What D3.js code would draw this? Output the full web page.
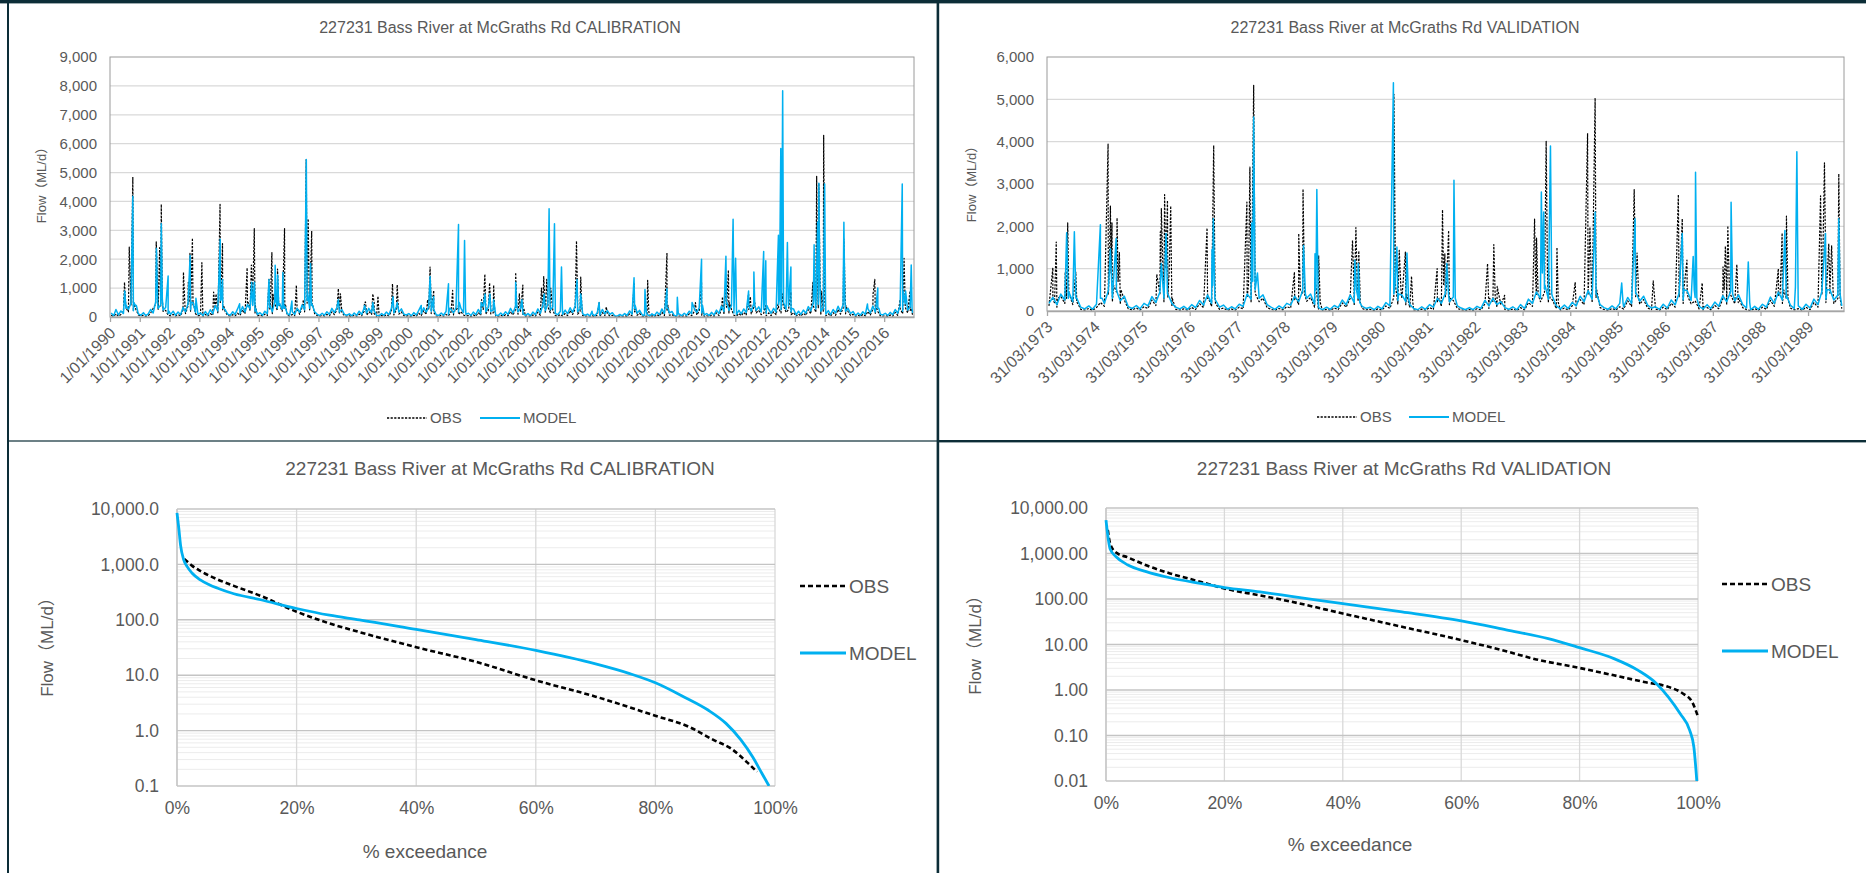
<!DOCTYPE html>
<html>
<head>
<meta charset="utf-8">
<script src="https://cdn.jsdelivr.net/npm/d3@7"></script>
<style>
  html, body { margin: 0; padding: 0; background: #fff; }
  svg { display: block; font-family: "Liberation Sans", Arial, "Noto Sans CJK SC", sans-serif; }
</style>
</head>
<body>
<svg id="chart" width="1866" height="873"></svg>
<script>
// ---------------- Calibration daily flows (1990 – 2016), ML/d ----------------
// Storm peaks and the dips between them
const calObsEvents = [
  ["1990-06-28",1200],["1990-07-20",300],["1990-08-25",2420],["1990-09-15",600],["1990-10-08",4850],["1990-10-20",500],
  ["1991-07-22",2600],["1991-08-12",700],["1991-09-02",2400],["1991-09-12",900],["1991-09-22",3900],["1991-10-05",600],
  ["1992-06-20",1550],["1992-07-10",300],["1992-08-18",1200],["1992-08-28",500],["1992-09-08",2200],["1992-09-20",800],["1992-10-08",2730],["1992-10-20",500],
  ["1993-02-01",1880],["1993-02-12",200],["1993-06-25",860],["1993-07-10",400],["1993-07-25",800],["1993-08-20",500],["1993-09-12",3900],["1993-09-25",800],["1993-10-12",2540],["1993-10-25",400],
  ["1994-08-10",1700],["1994-08-25",500],["1994-10-01",1800],["1994-10-15",600],["1994-11-06",3060],["1994-11-18",400],
  ["1995-05-05",1300],["1995-05-20",300],["1995-06-10",2230],["1995-06-22",800],["1995-08-18",1660],["1995-09-01",500],["1995-11-12",3060],["1995-11-25",400],
  ["1996-04-05",1100],["1996-04-18",300],["1996-07-01",600],["1996-08-04",5450],["1996-08-18",1200],["1996-08-28",3400],["1996-09-10",800],["1996-10-10",2980],["1996-10-22",400],
  ["1997-09-02",980],["1997-09-15",300],["1997-09-28",800],
  ["1998-07-20",500],["1998-08-01",520],["1998-10-30",800],["1998-11-15",500],
  ["1999-01-01",720],["1999-06-28",1150],["1999-07-10",300],["1999-08-25",1120],["1999-09-08",300],
  ["2000-09-01",600],["2000-10-01",1730],["2000-10-15",400],["2000-11-15",920],
  ["2001-07-05",920],["2001-07-20",200],["2001-09-15",400],
  ["2002-06-25",600],["2002-08-04",1480],["2002-08-15",400],["2002-10-01",1180],["2002-10-15",400],["2002-11-20",1100],["2002-12-01",300],
  ["2003-08-17",1540],["2003-08-30",400],["2003-10-01",800],["2003-11-13",1100],["2003-11-25",300],
  ["2004-06-28",1000],["2004-07-26",1400],["2004-08-10",500],["2004-09-01",1300],["2004-09-15",600],["2004-10-20",1000],
  ["2005-09-01",2630],["2005-09-15",600],["2005-10-23",1380],["2005-11-05",400],
  ["2006-06-05",500],["2006-09-01",350],
  ["2007-08-10",1150],["2007-08-25",300],
  ["2008-01-22",1270],["2008-02-05",200],["2008-09-15",2220],["2008-09-28",400],
  ["2009-08-30",500],["2009-11-13",1200],["2009-11-25",300],
  ["2010-07-28",700],["2010-09-08",1200],["2010-09-20",500],["2010-10-08",1620],["2010-10-20",500],
  ["2011-06-13",800],["2011-07-05",700],["2011-08-17",700],
  ["2012-01-10",400],["2012-06-13",500],["2012-08-04",800],["2012-11-13",870],
  ["2013-08-10",1200],["2013-09-25",4870],["2013-10-05",1500],["2013-10-22",4630],["2013-11-05",1420],["2013-11-20",900],["2013-12-20",6290],["2014-01-03",580],
  ["2014-08-25",2700],["2014-09-05",1330],["2014-09-18",400],
  ["2015-08-18",800],["2015-09-08",1300],["2015-09-20",400],
  ["2016-07-15",600],["2016-09-01",2030],["2016-09-15",500],["2016-11-13",900],["2016-11-28",300]
];
const calModelEvents = [
  ["1990-07-01",900],["1990-07-15",300],["1990-10-08",4180],["1990-10-20",500],["1990-11-20",400],
  ["1991-07-25",2370],["1991-08-08",500],["1991-09-22",3230],["1991-10-05",600],["1991-12-15",1420],["1991-12-25",200],
  ["1992-09-10",2130],["1992-09-22",500],["1992-11-20",650],
  ["1993-07-15",400],["1993-09-14",2690],["1993-09-25",600],["1993-10-12",1300],["1993-10-25",300],
  ["1994-05-10",460],["1994-10-05",1200],["1994-10-18",400],["1994-11-08",1200],["1994-11-20",300],
  ["1995-05-05",1300],["1995-05-18",400],["1995-07-20",1790],["1995-08-02",500],["1995-08-20",1450],["1995-09-01",400],["1995-10-22",1540],["1995-11-02",300],
  ["1996-02-10",550],["1996-08-05",5450],["1996-08-18",900],["1996-09-25",1850],["1996-10-08",400],
  ["1997-06-15",300],["1997-09-02",600],
  ["1998-07-20",400],["1998-09-10",300],["1998-10-30",500],
  ["1999-07-05",700],["1999-08-25",500],
  ["2000-06-15",400],["2000-10-01",1400],["2000-10-15",400],["2000-11-15",700],
  ["2001-05-15",1150],["2001-05-28",300],["2001-09-15",3200],["2001-09-25",500],["2001-11-28",2650],["2001-12-10",300],
  ["2002-06-20",500],["2002-08-06",800],["2002-10-05",800],["2002-11-20",600],
  ["2003-08-17",1200],["2003-08-30",400],["2003-11-01",600],
  ["2004-08-01",800],["2004-09-30",3750],["2004-10-10",600],["2004-12-05",3230],["2004-12-15",400],
  ["2005-03-01",1730],["2005-03-12",300],["2005-09-08",1300],["2005-10-23",800],
  ["2006-03-10",200],["2006-06-05",500],
  ["2007-08-08",1360],["2007-08-22",400],["2007-12-20",950],["2008-01-05",200],
  ["2008-09-15",980],["2008-09-28",300],["2009-01-20",680],["2009-02-01",100],
  ["2009-07-20",500],["2009-11-13",2000],["2009-11-25",400],
  ["2010-09-08",2100],["2010-09-20",500],["2010-12-05",3380],["2010-12-15",600],["2011-01-05",2030],["2011-01-15",300],
  ["2011-06-13",900],["2011-08-17",1560],["2011-08-28",400],["2011-12-15",2270],["2011-12-25",500],
  ["2012-01-10",1950],["2012-01-22",400],["2012-06-13",2830],["2012-06-25",600],["2012-07-12",5830],["2012-07-22",800],["2012-08-04",7830],["2012-08-15",700],["2012-10-01",2580],["2012-10-12",500],["2012-11-13",1730],["2012-11-25",300],
  ["2013-08-25",2500],["2013-09-05",600],["2013-10-08",3290],["2013-10-15",1200],["2013-10-22",4630],["2013-11-01",1420],["2013-11-10",600],["2014-01-01",4600],["2014-01-12",500],
  ["2014-08-25",3280],["2014-09-05",600],
  ["2015-06-10",450],["2015-10-15",1000],["2015-10-28",300],
  ["2016-08-10",4600],["2016-08-20",900],["2016-09-20",900],["2016-11-28",1800],["2016-12-08",300]
];
// Mid-month background flows, Jan 1990 onwards
const calObsBaseStart = "1990-01";
const calObsBase = [
  60,20,110,30,90,200,350,180,420,200,260,70,
  30,60,20,50,140,300,450,250,380,190,230,60,
  40,90,30,80,40,250,120,380,200,420,110,40,
  60,20,90,30,120,60,300,150,480,250,180,50,
  30,80,40,130,60,250,110,380,220,420,140,40,
  70,30,100,50,250,120,450,230,400,200,300,60,
  30,90,40,200,90,350,180,480,250,380,120,50,
  20,60,30,90,40,180,80,250,110,170,40,25,
  40,15,60,25,100,40,200,70,180,90,120,25,
  15,50,25,80,35,200,70,260,100,180,45,30,
  50,15,60,30,130,50,220,90,260,120,160,35,
  20,60,25,90,40,170,70,220,90,190,70,35,
  50,20,70,30,150,60,260,100,230,110,140,30,
  20,60,25,80,40,190,70,260,100,180,50,25,
  45,15,70,30,170,60,300,130,350,150,230,50,
  30,90,35,120,50,220,90,280,100,190,50,20,
  35,10,40,15,70,25,150,45,120,35,60,12,
  10,30,12,45,20,110,40,180,60,130,30,15,
  30,10,40,15,80,30,170,50,200,60,90,15,
  10,35,12,50,20,110,45,190,70,200,60,20,
  45,15,60,25,140,50,260,100,340,140,260,60,
  35,120,45,160,60,260,110,330,140,230,80,130,
  45,140,50,180,80,300,140,380,160,260,80,150,
  30,100,35,130,60,250,110,380,170,320,100,200,
  40,110,30,150,60,260,100,300,110,190,50,90,
  20,60,25,90,35,190,70,270,90,190,40,25,
  50,20,70,30,160,60,290,110,340,140,230,60
];
const calModelBaseStart = "1990-01";
const calModelBase = [
  140,40,260,70,210,120,430,260,480,220,380,110,
  60,150,50,110,260,140,520,300,420,240,330,120,
  90,200,60,170,80,330,180,460,250,500,160,90,
  140,50,190,70,250,120,380,210,560,300,250,100,
  60,180,90,280,120,360,170,430,280,480,200,90,
  150,60,200,110,330,180,540,300,460,260,380,120,
  70,180,90,300,160,420,250,560,300,440,180,100,
  50,130,60,180,90,300,150,330,170,260,90,60,
  110,40,140,60,200,90,310,140,270,160,220,60,
  40,120,60,170,80,300,140,350,170,280,100,70,
  120,40,150,70,230,110,320,170,360,200,260,80,
  50,140,60,190,90,270,140,330,170,300,150,90,
  130,50,170,80,260,120,370,180,330,200,240,70,
  50,140,60,180,90,300,140,370,180,290,110,60,
  120,40,170,80,280,130,420,220,470,250,350,120,
  80,200,90,240,110,320,160,380,180,290,120,60,
  100,30,110,40,160,70,260,110,220,90,150,40,
  30,90,40,120,60,210,100,290,130,230,80,50,
  90,30,110,50,170,80,280,120,310,140,190,50,
  30,100,40,130,60,200,110,300,150,320,140,70,
  120,50,160,70,240,120,380,190,460,230,390,140,
  90,230,110,280,150,380,200,460,230,350,170,260,
  120,260,130,300,170,420,250,500,260,380,180,280,
  80,200,90,240,130,360,210,500,280,440,200,320,
  100,220,80,260,140,370,190,420,200,300,120,190,
  50,140,60,180,90,290,140,380,170,300,100,70,
  130,50,160,80,260,130,400,200,460,240,350,140
];

// ---------------- Validation daily flows (1973 – 1989), ML/d ----------------
const valObsEvents = [
  ["1973-05-15",1020],["1973-05-28",200],["1973-06-10",1630],["1973-06-22",300],["1973-08-18",920],["1973-08-28",300],["1973-09-06",2080],["1973-09-18",400],["1973-11-07",920],["1973-11-18",200],
  ["1974-07-13",3940],["1974-07-22",900],["1974-07-31",2480],["1974-08-05",900],["1974-08-12",2080],["1974-08-25",600],["1974-09-20",2200],["1974-09-28",700],["1974-10-08",1380],["1974-10-20",500],
  ["1975-07-22",870],["1975-08-10",500],["1975-08-18",1870],["1975-08-22",900],["1975-08-26",2420],["1975-09-08",900],["1975-09-20",2750],["1975-09-30",1000],["1975-10-12",2610],["1975-10-25",900],["1975-11-06",2480],["1975-11-18",300],
  ["1976-08-11",1960],["1976-08-22",300],["1976-10-01",3910],["1976-10-12",300],
  ["1977-06-13",2570],["1977-06-25",600],["1977-07-06",3400],["1977-07-20",800],["1977-08-04",5330],["1977-08-15",600],
  ["1978-06-13",920],["1978-06-25",300],["1978-07-16",1830],["1978-07-28",500],["1978-08-18",2880],["1978-08-30",400],["1978-11-18",800],["1978-12-02",400],["1978-12-16",1310],["1978-12-28",200],
  ["1979-09-02",1670],["1979-09-14",500],["1979-09-28",1970],["1979-10-08",600],["1979-10-20",1420],["1979-11-01",200],
  ["1980-07-16",5120],["1980-07-28",600],["1980-08-26",1430],["1980-09-08",500],["1980-10-12",1390],["1980-10-22",400],["1980-11-28",820],["1980-12-08",200],
  ["1981-06-13",1000],["1981-06-28",300],["1981-07-24",2390],["1981-08-02",600],["1981-08-11",1350],["1981-08-22",500],["1981-09-09",1900],["1981-09-20",300],
  ["1982-07-05",1120],["1982-07-18",300],["1982-08-22",1570],["1982-09-02",300],["1982-09-17",580],["1982-11-13",370],
  ["1983-07-01",2170],["1983-07-08",800],["1983-07-16",1720],["1983-07-28",400],["1983-09-28",4010],["1983-10-08",900],["1983-10-16",1040],["1983-10-28",300],["1983-12-20",1500],["1983-12-30",200],
  ["1984-05-08",680],["1984-05-20",200],["1984-08-11",4200],["1984-08-20",800],["1984-08-29",1980],["1984-09-10",600],["1984-10-08",5030],["1984-10-20",500],
  ["1985-08-04",2870],["1985-08-15",700],["1985-08-26",1370],["1985-09-08",300],["1985-12-28",710],
  ["1986-07-09",2750],["1986-07-22",800],["1986-08-08",2180],["1986-08-20",500],["1986-09-13",1200],["1986-09-25",300],
  ["1987-01-08",660],["1987-01-20",100],["1987-06-17",1040],["1987-06-26",500],["1987-07-05",1530],["1987-07-14",600],["1987-07-24",2010],["1987-08-05",500],["1987-10-01",1100],["1987-10-12",200],
  ["1988-08-15",1000],["1988-08-28",400],["1988-09-13",1840],["1988-09-25",500],["1988-10-16",2240],["1988-10-28",300],
  ["1989-07-05",2720],["1989-07-20",800],["1989-08-04",3500],["1989-08-15",700],["1989-09-06",1590],["1989-09-16",600],["1989-09-28",1540],["1989-10-10",400],["1989-11-22",3240],["1989-12-02",300]
];
const valModelEvents = [
  ["1973-08-29",1850],["1973-09-10",300],["1973-10-27",1870],["1973-11-08",300],
  ["1974-05-15",2040],["1974-05-28",300],["1974-07-31",1470],["1974-08-12",500],["1974-09-13",1710],["1974-09-25",400],
  ["1975-08-26",1120],["1975-09-10",500],["1975-10-01",1830],["1975-10-12",400],
  ["1976-09-18",1450],["1976-09-23",600],["1976-09-28",2180],["1976-10-10",300],
  ["1977-07-20",2080],["1977-07-28",700],["1977-08-04",4580],["1977-08-15",500],["1977-09-02",900],
  ["1978-08-22",1550],["1978-09-05",400],["1978-11-18",1350],["1978-11-25",500],["1978-12-02",2870],["1978-12-12",300],
  ["1979-09-20",1200],["1979-10-02",500],["1979-10-16",1120],["1979-10-28",200],
  ["1980-07-12",5390],["1980-07-24",600],["1980-08-08",1510],["1980-08-20",400],["1980-10-24",1370],["1980-11-05",300],
  ["1981-08-26",1120],["1981-09-08",400],["1981-10-20",3090],["1981-10-30",300],
  ["1983-08-22",2810],["1983-08-30",900],["1983-09-09",2340],["1983-09-20",600],["1983-10-31",3900],["1983-11-10",400],
  ["1984-10-08",2340],["1984-10-20",400],
  ["1985-04-30",660],["1985-05-10",200],["1985-08-11",2180],["1985-08-22",400],
  ["1986-08-08",1830],["1986-08-20",500],["1986-10-31",1290],["1986-11-08",500],["1986-11-18",3280],["1986-11-28",300],
  ["1987-08-18",2570],["1987-08-30",400],["1987-12-28",1160],["1988-01-08",200],
  ["1988-10-04",1900],["1988-10-15",300],["1988-12-24",570],["1989-01-04",3760],["1989-01-14",300],
  ["1989-08-12",1830],["1989-08-24",500],["1989-11-22",2180],["1989-12-02",400]
];
const valObsBaseStart = "1973-04";
const valObsBase = [
  120,250,90,350,180,380,150,200,40,
  20,60,15,80,200,110,400,220,450,160,260,50,
  25,70,20,100,60,260,130,380,220,330,110,40,
  20,50,15,80,35,170,80,300,110,180,40,70,
  15,45,20,90,50,320,200,420,220,300,80,40,
  15,60,25,100,70,270,150,400,230,320,90,35,
  10,40,15,70,35,190,90,300,130,230,60,25,
  40,10,50,20,120,60,320,170,300,150,80,25,
  10,45,15,80,40,220,110,340,150,250,60,30,
  10,35,10,55,25,170,60,230,90,150,35,15,
  45,10,80,25,200,110,370,220,440,200,260,60,
  20,70,25,120,60,270,150,400,200,320,80,35,
  15,60,20,100,45,240,110,340,160,270,70,30,
  45,15,90,30,180,90,340,180,400,170,240,50,
  20,80,25,130,55,280,150,380,170,300,80,30,
  10,55,15,90,40,250,110,370,180,300,70,25,
  55,15,90,30,200,90,380,200,420,180,300,55
];
const valModelBaseStart = "1973-04";
const valModelBase = [
  180,320,150,400,260,450,220,300,90,
  50,120,40,160,300,180,480,300,520,240,350,100,
  60,130,50,180,120,340,200,450,300,400,180,90,
  50,110,40,150,80,250,140,380,180,260,90,140,
  40,100,50,160,110,400,280,500,300,380,150,90,
  40,120,60,180,140,350,220,480,300,400,160,80,
  30,90,40,130,80,260,150,380,200,300,110,60,
  90,30,110,50,200,120,400,250,380,220,150,60,
  30,100,40,150,90,300,180,420,220,330,120,70,
  30,80,30,110,60,250,120,300,150,220,80,40,
  100,30,150,60,280,180,450,300,520,280,350,120,
  50,140,60,200,120,350,220,480,280,400,150,80,
  40,120,50,180,100,320,180,420,230,350,140,70,
  100,40,160,70,260,150,420,260,480,250,320,110,
  50,150,60,210,110,360,220,460,240,380,150,70,
  30,110,40,160,90,330,180,450,260,380,140,60,
  120,40,160,70,280,150,460,280,500,260,380,120
];

// ---------------- Flow duration curves: % exceedance vs flow (ML/d) ----------------
const calFdcModelPct = [0,0.3,0.6,1.1,1.7,2.5,3.9,5.4,6.7,9.5,14,20,25.5,30.5,40,50,60,70,75.7,80,84.7,88.8,91.8,94.3,96.3,97.8,99];
const calFdcModel    = [8500,4500,2200,1230,910,700,525,430,375,295,230,160,121,100,67,44,28,16,10.7,7.3,4.1,2.35,1.35,0.68,0.33,0.17,0.1];
const calFdcObsPct   = [1.2,1.6,2.5,3.9,6.7,9.5,14,20,25.5,30.5,40,50,60,70,80,85.6,89.7,92.7,95.3,97];
const calFdcObs      = [1250,1150,950,760,540,410,270,140,86,60,32,17.4,8.1,4.1,1.85,1.17,0.68,0.47,0.27,0.18];

const valFdcModelPct = [0,0.4,0.7,1.7,3.7,6.8,10.8,15.9,20,26,31,40,50,60,67.6,74.7,80,85.8,89.9,93,95,97,98.6,99.3,99.8];
const valFdcModel    = [5400,2000,1250,850,560,400,293,220,178,143,116,79,52,33,21,13.5,8.5,4.9,2.7,1.38,0.7,0.3,0.13,0.056,0.01];
const valFdcObsPct   = [0.3,0.7,1.7,3.7,6.8,10.8,15.9,20,26,31,40,50,60,67.6,72.7,80,85.8,90.9,95,97.5,99,100];
const valFdcObs      = [3300,1650,1050,820,550,365,240,170,120,89,48,24.5,12.5,7.1,4.7,3.05,2.1,1.5,1.17,0.83,0.55,0.26];

const pctTicks = [0,20,40,60,80,100];
const seriesNames = ["OBS","MODEL"];

// ---------------- drawing ----------------
const svg = d3.select("#chart");
const TEXT = "#595959";
const MODEL_C = "#00b0f0";
const OBS_C = "#000000";
const FRAME_C = "#0c2d37";
const parseDay = d3.timeParse("%Y-%m-%d");
const parseMonth = d3.timeParse("%Y-%m");

function buildSeries(events, baseStart, base) {
  const s = d3.timeDay.offset(parseMonth(baseStart), 14);
  const pts = events.map(([d, v]) => [parseDay(d), v])
    .concat(base.map((v, i) => [d3.timeMonth.offset(s, i), v]));
  return pts.sort((a, b) => a[0] - b[0]);
}

function drawTitle(text, cx, y, fs) {
  svg.append("text").attr("x", cx).attr("y", y).attr("text-anchor", "middle")
    .attr("fill", TEXT).attr("font-size", fs).text(text);
}

function yTitle(cx, cy, fs) {
  svg.append("text").attr("transform", `translate(${cx},${cy}) rotate(-90)`)
    .attr("text-anchor", "middle").attr("dy", "0.35em")
    .attr("fill", TEXT).attr("font-size", fs).text("Flow（ML/d）");
}

function timePanel(cfg) {
  const g = svg.append("g");
  const x = d3.scaleTime().domain(cfg.domain).range([cfg.x0, cfg.x1]);
  const y = d3.scaleLinear().domain([0, cfg.yMax]).range([cfg.y1, cfg.y0]);

  g.append("g").selectAll("line").data(d3.range(cfg.yStep, cfg.yMax, cfg.yStep)).join("line")
    .attr("x1", cfg.x0).attr("x2", cfg.x1)
    .attr("y1", d => y(d)).attr("y2", d => y(d))
    .attr("stroke", "#d9d9d9").attr("stroke-width", 1.3);

  const clipId = "clip" + cfg.id;
  g.append("clipPath").attr("id", clipId).append("rect")
    .attr("x", cfg.x0).attr("y", cfg.y0 - 2).attr("width", cfg.x1 - cfg.x0).attr("height", cfg.y1 - cfg.y0 + 2);

  const line = d3.line().x(d => x(d[0])).y(d => y(d[1]));
  g.append("path").datum(cfg.obs).attr("clip-path", `url(#${clipId})`).attr("d", line)
    .attr("fill", "none").attr("stroke", OBS_C).attr("stroke-width", 1.2)
    .attr("stroke-dasharray", "2.2,1.4").attr("stroke-linejoin", "round");
  g.append("path").datum(cfg.model).attr("clip-path", `url(#${clipId})`).attr("d", line)
    .attr("fill", "none").attr("stroke", MODEL_C).attr("stroke-width", 1.5)
    .attr("stroke-linejoin", "round");

  // plot frame
  g.append("rect").attr("x", cfg.x0).attr("y", cfg.y0)
    .attr("width", cfg.x1 - cfg.x0).attr("height", cfg.y1 - cfg.y0)
    .attr("fill", "none").attr("stroke", "#9a9a9a").attr("stroke-width", 1);

  // y axis
  const ya = g.append("g").attr("transform", `translate(${cfg.x0},0)`)
    .call(d3.axisLeft(y).tickValues(d3.range(0, cfg.yMax + 1, cfg.yStep)).tickFormat(d3.format(",")).tickSize(0).tickPadding(13));
  ya.select(".domain").remove();
  ya.selectAll("text").attr("fill", TEXT).attr("font-size", 15).attr("font-family", null);

  // x axis
  const xa = g.append("g").attr("transform", `translate(0,${cfg.y1})`)
    .call(d3.axisBottom(x).tickValues(cfg.ticks).tickFormat(cfg.fmt).tickSize(5).tickSizeOuter(0));
  xa.select(".domain").attr("stroke", "#a6a6a6").attr("stroke-width", 1.3);
  xa.selectAll(".tick line").attr("stroke", "#a6a6a6").attr("stroke-width", 1.3);
  xa.selectAll("text").attr("fill", TEXT).attr("font-size", 16).attr("font-family", null)
    .attr("text-anchor", "end").attr("x", 0).attr("y", 0).attr("dy", "0.35em")
    .attr("transform", "translate(2,13) rotate(-45)");

  drawTitle(cfg.title, cfg.titleX, 33, 16);
  yTitle(cfg.yTitleX, cfg.yTitleY, 13);

  // legend
  const lg = g.append("g");
  const L = cfg.legend;
  lg.append("line").attr("x1", L.obsX).attr("x2", L.obsX + L.len).attr("y1", L.y).attr("y2", L.y)
    .attr("stroke", OBS_C).attr("stroke-width", 1.4).attr("stroke-dasharray", "2.2,1.4");
  lg.append("text").attr("x", L.obsX + L.len + 3).attr("y", L.y).attr("dy", "0.35em")
    .attr("fill", TEXT).attr("font-size", 15).text(seriesNames[0]);
  lg.append("line").attr("x1", L.modelX).attr("x2", L.modelX + L.len).attr("y1", L.y).attr("y2", L.y)
    .attr("stroke", MODEL_C).attr("stroke-width", 1.8);
  lg.append("text").attr("x", L.modelX + L.len + 3).attr("y", L.y).attr("dy", "0.35em")
    .attr("fill", TEXT).attr("font-size", 15).text(seriesNames[1]);
}

function fdcPanel(cfg) {
  const g = svg.append("g");
  const x = d3.scaleLinear().domain([0, 100]).range([cfg.x0, cfg.x1]);
  const y = d3.scaleLog().domain([cfg.yMin, 10000]).range([cfg.y1, cfg.y0]);
  const majors = [];
  const minors = [];
  for (let e = Math.round(Math.log10(cfg.yMin)); e <= 4; e++) {
    majors.push(Math.pow(10, e));
    if (e < 4) for (let k = 2; k <= 9; k++) minors.push(k * Math.pow(10, e));
  }
  g.append("g").selectAll("line").data(minors).join("line")
    .attr("x1", cfg.x0).attr("x2", cfg.x1).attr("y1", d => y(d)).attr("y2", d => y(d))
    .attr("stroke", "#ececec").attr("stroke-width", 1);
  g.append("g").selectAll("line").data(pctTicks).join("line")
    .attr("x1", d => x(d)).attr("x2", d => x(d)).attr("y1", cfg.y0).attr("y2", cfg.y1)
    .attr("stroke", "#d9d9d9").attr("stroke-width", 1.3);
  g.append("g").selectAll("line").data(majors).join("line")
    .attr("x1", cfg.x0).attr("x2", cfg.x1).attr("y1", d => y(d)).attr("y2", d => y(d))
    .attr("stroke", "#c4c4c4").attr("stroke-width", 1.4);
  g.append("line").attr("x1", cfg.x0).attr("x2", cfg.x0).attr("y1", cfg.y0).attr("y2", cfg.y1)
    .attr("stroke", "#c4c4c4").attr("stroke-width", 1.4);

  const clipId = "clip" + cfg.id;
  g.append("clipPath").attr("id", clipId).append("rect")
    .attr("x", cfg.x0 - 2).attr("y", cfg.y0 - 2).attr("width", cfg.x1 - cfg.x0 + 4).attr("height", cfg.y1 - cfg.y0 + 2);

  const line = d3.line().x(d => x(d[0])).y(d => y(d[1])).curve(d3.curveMonotoneX);
  g.append("path").datum(d3.zip(cfg.obsPct, cfg.obs)).attr("clip-path", `url(#${clipId})`).attr("d", line)
    .attr("fill", "none").attr("stroke", OBS_C).attr("stroke-width", 2.6).attr("stroke-dasharray", "5,3");
  g.append("path").datum(d3.zip(cfg.modelPct, cfg.model)).attr("clip-path", `url(#${clipId})`).attr("d", line)
    .attr("fill", "none").attr("stroke", MODEL_C).attr("stroke-width", 2.8);

  const ya = g.append("g").attr("transform", `translate(${cfg.x0},0)`)
    .call(d3.axisLeft(y).tickValues(majors).tickFormat(d3.format(cfg.yFmt)).tickSize(0).tickPadding(18));
  ya.select(".domain").remove();
  ya.selectAll("text").attr("fill", TEXT).attr("font-size", 17.5).attr("font-family", null);

  const xa = g.append("g").attr("transform", `translate(0,${cfg.y1})`)
    .call(d3.axisBottom(x).tickValues(pctTicks).tickFormat(d => d + "%").tickSize(0).tickPadding(0));
  xa.select(".domain").remove();
  xa.selectAll("text").attr("fill", TEXT).attr("font-size", 17.5).attr("font-family", null)
    .attr("y", 28).attr("dy", 0);

  drawTitle(cfg.title, cfg.titleX, 475, 19);
  yTitle(cfg.yTitleX, cfg.yTitleY, 17);
  svg.append("text").attr("x", cfg.xTitleX).attr("y", cfg.xTitleY).attr("text-anchor", "middle")
    .attr("fill", TEXT).attr("font-size", 19).text("% exceedance");

  const L = cfg.legend;
  g.append("line").attr("x1", L.x).attr("x2", L.x + L.len).attr("y1", L.yObs).attr("y2", L.yObs)
    .attr("stroke", OBS_C).attr("stroke-width", 2.6).attr("stroke-dasharray", "5,3");
  g.append("text").attr("x", L.x + L.len + 3).attr("y", L.yObs).attr("dy", "0.35em")
    .attr("fill", TEXT).attr("font-size", 19).text(seriesNames[0]);
  g.append("line").attr("x1", L.x).attr("x2", L.x + L.len).attr("y1", L.yModel).attr("y2", L.yModel)
    .attr("stroke", MODEL_C).attr("stroke-width", 2.8);
  g.append("text").attr("x", L.x + L.len + 3).attr("y", L.yModel).attr("dy", "0.35em")
    .attr("fill", TEXT).attr("font-size", 19).text(seriesNames[1]);
}

// Calibration hydrograph
const calStart = new Date(1990, 0, 1);
timePanel({
  id: "calTs",
  title: "227231 Bass River at McGraths Rd CALIBRATION",
  titleX: 500,
  x0: 110, x1: 914, y0: 57, y1: 317,
  domain: [calStart, new Date(2017, 0, 1)],
  yMax: 9000, yStep: 1000,
  ticks: d3.range(27).map(i => d3.timeYear.offset(calStart, i)),
  fmt: d3.timeFormat("%-d/%m/%Y"),
  obs: buildSeries(calObsEvents, calObsBaseStart, calObsBase),
  model: buildSeries(calModelEvents, calModelBaseStart, calModelBase),
  yTitleX: 41, yTitleY: 182,
  legend: {obsX: 387, modelX: 480, len: 40, y: 418}
});

// Validation hydrograph
const valStart = new Date(1973, 2, 31);
timePanel({
  id: "valTs",
  title: "227231 Bass River at McGraths Rd VALIDATION",
  titleX: 1405,
  x0: 1047, x1: 1844, y0: 57, y1: 311,
  domain: [valStart, new Date(1990, 0, 1)],
  yMax: 6000, yStep: 1000,
  ticks: d3.range(17).map(i => d3.timeYear.offset(valStart, i)),
  fmt: d3.timeFormat("%d/%m/%Y"),
  obs: buildSeries(valObsEvents, valObsBaseStart, valObsBase),
  model: buildSeries(valModelEvents, valModelBaseStart, valModelBase),
  yTitleX: 971, yTitleY: 181,
  legend: {obsX: 1317, modelX: 1409, len: 40, y: 417}
});

// Calibration flow duration curve
fdcPanel({
  id: "calFdc",
  title: "227231 Bass River at McGraths Rd CALIBRATION",
  titleX: 500,
  x0: 177, x1: 775, y0: 509, y1: 786,
  yMin: 0.1, yFmt: ",.1f",
  obsPct: calFdcObsPct, obs: calFdcObs,
  modelPct: calFdcModelPct, model: calFdcModel,
  yTitleX: 47, yTitleY: 643,
  xTitleX: 425, xTitleY: 858,
  legend: {x: 800, len: 46, yObs: 586, yModel: 653}
});

// Validation flow duration curve
fdcPanel({
  id: "valFdc",
  title: "227231 Bass River at McGraths Rd VALIDATION",
  titleX: 1404,
  x0: 1106, x1: 1698, y0: 508, y1: 781,
  yMin: 0.01, yFmt: ",.2f",
  obsPct: valFdcObsPct, obs: valFdcObs,
  modelPct: valFdcModelPct, model: valFdcModel,
  yTitleX: 975, yTitleY: 641,
  xTitleX: 1350, xTitleY: 851,
  legend: {x: 1722, len: 46, yObs: 584, yModel: 651}
});

// Panel dividers
svg.append("rect").attr("x", 0).attr("y", 0).attr("width", 1866).attr("height", 3.4).attr("fill", FRAME_C);
svg.append("rect").attr("x", 7).attr("y", 0).attr("width", 2).attr("height", 873).attr("fill", FRAME_C);
svg.append("rect").attr("x", 936.6).attr("y", 0).attr("width", 2.6).attr("height", 873).attr("fill", FRAME_C);
svg.append("rect").attr("x", 8).attr("y", 440.4).attr("width", 929).attr("height", 1.2).attr("fill", FRAME_C);
svg.append("rect").attr("x", 937).attr("y", 440).attr("width", 929).attr("height", 2.4).attr("fill", FRAME_C);
</script>
</body>
</html>
